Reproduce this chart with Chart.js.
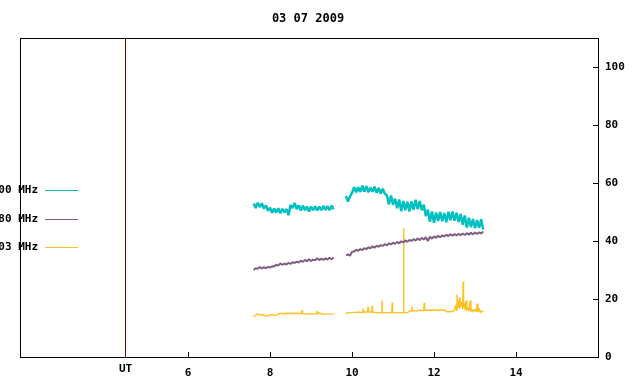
<!DOCTYPE html>
<html><head><meta charset="utf-8">
<script src="https://cdn.jsdelivr.net/npm/chart.js@4/dist/chart.umd.min.js"></script>
<style>html,body{margin:0;padding:0;background:#fff}</style>
</head><body>
<canvas id="c" width="640" height="384"></canvas>
<script>
const titleText = '03 07 2009';
const seriesNames = ['2800 MHz', '1980 MHz', '1403 MHz'];
const seriesColors = ['#00c0c0', '#7f5f7f', '#ffc020'];
const seriesWidths = [2.5, 2, 1.4];
const xTickValues = [6, 8, 10, 12, 14];
const yTickValues = [0, 20, 40, 60, 80, 100];
const utHour = 4.45;
const utLabel = 'UT';

// [hour UT, value] pairs
const tealPart1 = [[7.60,52.9],[7.65,51.4],[7.70,53.2],[7.75,51.7],[7.80,53.0],[7.85,51.2],[7.90,52.3],[7.95,50.4],[8.00,51.5],[8.05,49.7],[8.10,51.2],[8.15,49.8],[8.20,51.3],[8.25,49.6],[8.30,51.1],[8.35,49.9],[8.40,51.0],[8.45,48.9],[8.50,52.4],[8.55,51.4],[8.60,53.1],[8.65,51.0],[8.70,52.3],[8.75,50.5],[8.80,52.2],[8.85,50.6],[8.90,51.9],[8.95,50.2],[9.00,51.9],[9.05,50.6],[9.10,52.0],[9.15,50.5],[9.20,51.9],[9.25,50.6],[9.30,52.1],[9.35,50.7],[9.40,52.0],[9.45,50.6],[9.50,52.2],[9.55,50.9]];
const tealPart2 = [[9.85,55.5],[9.90,53.6],[9.95,55.4],[10.00,56.6],[10.05,58.6],[10.10,56.8],[10.15,58.5],[10.20,56.9],[10.25,59.1],[10.30,57.0],[10.35,58.9],[10.40,56.8],[10.45,58.4],[10.50,57.0],[10.55,58.7],[10.60,56.6],[10.65,58.3],[10.70,56.4],[10.75,58.0],[10.80,56.3],[10.85,55.8],[10.90,52.6],[10.95,55.7],[11.00,52.5],[11.05,54.6],[11.10,51.3],[11.15,54.3],[11.20,50.3],[11.25,53.8],[11.30,50.6],[11.35,53.5],[11.40,50.2],[11.45,53.6],[11.50,50.8],[11.55,54.2],[11.60,51.0],[11.65,53.8],[11.70,50.6],[11.75,52.5],[11.80,48.6],[11.85,50.8],[11.90,46.6],[11.95,50.2],[12.00,46.3],[12.05,49.8],[12.10,46.9],[12.15,50.0],[12.20,46.8],[12.25,49.6],[12.30,46.5],[12.35,50.1],[12.40,47.2],[12.45,50.2],[12.50,47.0],[12.55,49.7],[12.60,46.6],[12.65,49.3],[12.70,45.6],[12.75,48.8],[12.80,44.6],[12.85,48.0],[12.90,44.8],[12.95,47.6],[13.00,44.4],[13.05,47.2],[13.10,44.6],[13.15,47.5],[13.20,44.0]];

const purplePart1 = [[7.60,30.0],[7.65,30.6],[7.70,30.4],[7.75,31.0],[7.80,30.5],[7.85,31.0],[7.90,30.6],[7.95,31.1],[8.00,30.8],[8.05,31.3],[8.10,31.2],[8.15,31.8],[8.20,31.5],[8.25,32.3],[8.30,31.8],[8.35,32.2],[8.40,31.9],[8.45,32.5],[8.50,32.1],[8.55,32.7],[8.60,32.4],[8.65,32.9],[8.70,32.6],[8.75,33.2],[8.80,32.8],[8.85,33.5],[8.90,33.0],[8.95,33.7],[9.00,33.1],[9.05,33.6],[9.10,33.3],[9.15,34.1],[9.20,33.4],[9.25,33.9],[9.30,33.5],[9.35,34.0],[9.40,33.6],[9.45,34.2],[9.50,33.7],[9.55,34.3]];
const purplePart2 = [[9.85,35.0],[9.90,35.4],[9.95,34.9],[10.00,36.3],[10.05,36.4],[10.10,37.0],[10.15,36.6],[10.20,37.2],[10.25,36.9],[10.30,37.5],[10.35,37.2],[10.40,37.8],[10.45,37.5],[10.50,38.2],[10.55,37.7],[10.60,38.4],[10.65,38.0],[10.70,38.6],[10.75,38.3],[10.80,38.9],[10.85,38.5],[10.90,39.2],[10.95,38.8],[11.00,39.4],[11.05,39.0],[11.10,39.7],[11.15,39.2],[11.20,39.9],[11.25,39.5],[11.30,40.2],[11.35,39.7],[11.40,40.4],[11.45,40.0],[11.50,40.7],[11.55,40.1],[11.60,40.9],[11.65,40.3],[11.70,41.1],[11.75,40.5],[11.80,41.3],[11.85,40.0],[11.90,41.5],[11.95,40.8],[12.00,41.6],[12.05,41.1],[12.10,41.8],[12.15,41.3],[12.20,42.0],[12.25,41.5],[12.30,42.2],[12.35,41.7],[12.40,42.3],[12.45,41.8],[12.50,42.4],[12.55,41.9],[12.60,42.5],[12.65,42.0],[12.70,42.6],[12.75,42.1],[12.80,42.7],[12.85,42.2],[12.90,42.8],[12.95,42.3],[13.00,42.9],[13.05,42.4],[13.10,43.0],[13.15,42.6],[13.20,43.3]];

const yellowPart1 = [[7.60,13.9],[7.65,14.4],[7.70,14.9],[7.75,14.5],[7.80,14.6],[7.85,14.3],[7.90,14.2],[7.95,14.2],[8.00,14.5],[8.05,14.6],[8.10,14.3],[8.15,14.4],[8.20,14.9],[8.25,15.0],[8.30,15.0],[8.35,14.9],[8.40,15.1],[8.45,15.0],[8.50,15.0],[8.55,15.1],[8.60,15.0],[8.65,15.1],[8.70,15.0],[8.77,15.0],[8.78,16.2],[8.79,15.0],[8.85,14.9],[8.90,14.8],[8.95,14.9],[9.00,14.8],[9.05,14.8],[9.10,14.9],[9.14,14.9],[9.15,15.8],[9.16,14.9],[9.20,15.2],[9.25,14.9],[9.30,14.8],[9.35,14.8],[9.40,14.8],[9.45,14.8],[9.50,14.8],[9.55,14.8]];
const yellowPart2 = [[9.85,15.0],[9.90,15.3],[9.95,15.3],[10.00,15.4],[10.05,15.4],[10.10,15.4],[10.15,15.5],[10.20,15.4],[10.26,15.4],[10.27,16.6],[10.28,15.4],[10.33,15.5],[10.38,15.5],[10.39,17.4],[10.40,15.5],[10.48,15.5],[10.49,17.7],[10.50,15.5],[10.55,15.4],[10.60,15.3],[10.65,15.3],[10.72,15.3],[10.73,19.4],[10.74,15.3],[10.80,15.3],[10.85,15.3],[10.90,15.3],[10.97,15.3],[10.98,18.8],[10.99,15.3],[11.05,15.3],[11.10,15.3],[11.15,15.3],[11.20,15.3],[11.255,15.3],[11.26,44.4],[11.265,15.3],[11.30,15.3],[11.35,15.3],[11.40,15.8],[11.45,15.9],[11.46,17.4],[11.47,15.9],[11.52,16.0],[11.58,15.8],[11.64,16.1],[11.70,16.0],[11.75,16.0],[11.76,18.7],[11.77,16.0],[11.82,16.1],[11.88,16.2],[11.95,16.1],[12.00,16.2],[12.05,16.1],[12.10,16.2],[12.15,16.3],[12.20,16.1],[12.25,16.2],[12.30,15.6],[12.35,15.6],[12.40,15.6],[12.45,15.8],[12.50,16.2],[12.53,18.0],[12.55,16.0],[12.56,21.5],[12.58,17.0],[12.60,19.5],[12.62,16.8],[12.63,20.7],[12.65,17.5],[12.68,19.0],[12.70,16.5],[12.71,26.0],[12.72,17.0],[12.74,18.5],[12.76,16.2],[12.78,19.5],[12.80,16.0],[12.83,17.0],[12.85,15.8],[12.88,19.5],[12.90,15.6],[12.93,16.5],[12.96,15.5],[13.00,16.4],[13.03,15.6],[13.05,18.4],[13.07,15.5],[13.10,16.8],[13.13,15.2],[13.16,15.9],[13.20,15.6]];

const xMin = 1.9, xMax = 16, yMin = 0, yMax = 110;
const FONT = '"DejaVu Sans Mono", "Liberation Mono", monospace';

function toPoints(a, b) {
  const pts = a.map(p => ({x: p[0], y: p[1]}));
  pts.push({x: (a[a.length-1][0] + b[0][0]) / 2, y: null});
  return pts.concat(b.map(p => ({x: p[0], y: p[1]})));
}

const lineDs = (label, data, color, width) => ({
  label, data, borderColor: color, backgroundColor: color,
  borderWidth: width, borderJoinStyle: 'bevel', pointRadius: 0, tension: 0, spanGaps: false, fill: false
});

const decor = {
  id: 'decor',
  beforeDatasetsDraw(chart) {
    const ctx = chart.ctx, a = chart.chartArea, xs = chart.scales.x;
    ctx.save();
    ctx.strokeStyle = '#800000'; ctx.lineWidth = 1;
    const ux = Math.round(xs.getPixelForValue(utHour)) + 0.5;
    ctx.beginPath(); ctx.moveTo(ux, a.top); ctx.lineTo(ux, a.bottom); ctx.stroke();
    ctx.restore();
  },
  afterDraw(chart) {
    const ctx = chart.ctx, a = chart.chartArea;
    const xs = chart.scales.x, ys = chart.scales.y;
    ctx.save();
    ctx.strokeStyle = '#000'; ctx.lineWidth = 1;
    ctx.strokeRect(a.left + 0.5, a.top + 0.5, a.right - a.left, a.bottom - a.top);
    ctx.beginPath();
    xTickValues.forEach(v => {
      const px = Math.round(xs.getPixelForValue(v)) + 0.5;
      ctx.moveTo(px, a.bottom); ctx.lineTo(px, a.bottom - 5);
    });
    yTickValues.forEach(v => {
      const py = Math.round(ys.getPixelForValue(v)) + 0.5;
      ctx.moveTo(a.right, py); ctx.lineTo(a.right - 5, py);
    });
    ctx.stroke();
    ctx.fillStyle = '#000';
    ctx.font = 'bold 12px ' + FONT;
    ctx.textAlign = 'center'; ctx.textBaseline = 'middle';
    ctx.fillText(titleText, 308, 19);
    ctx.font = 'bold 11px ' + FONT;
    ctx.fillText(utLabel, Math.round(xs.getPixelForValue(utHour)) + 0.5, 369);
    ctx.textAlign = 'right';
    const legY = [190, 218.5, 247];
    seriesNames.forEach((n, i) => {
      ctx.fillStyle = '#000';
      ctx.fillText(n, 38, legY[i] + 0.5);
      ctx.strokeStyle = seriesColors[i];
      ctx.beginPath();
      ctx.moveTo(45, Math.round(legY[i]) + 0.5); ctx.lineTo(78, Math.round(legY[i]) + 0.5);
      ctx.stroke();
    });
    ctx.restore();
  }
};

new Chart(document.getElementById('c'), {
  type: 'line',
  data: {
    datasets: [
      lineDs(seriesNames[0], toPoints(tealPart1, tealPart2), seriesColors[0], seriesWidths[0]),
      lineDs(seriesNames[1], toPoints(purplePart1, purplePart2), seriesColors[1], seriesWidths[1]),
      lineDs(seriesNames[2], toPoints(yellowPart1, yellowPart2), seriesColors[2], seriesWidths[2])
    ]
  },
  options: {
    responsive: false, animation: false, devicePixelRatio: 1,
    layout: {padding: {left: 20, top: 38, right: 0, bottom: 0}},
    plugins: {legend: {display: false}, title: {display: false}, tooltip: {enabled: false}},
    scales: {
      x: {
        type: 'linear', position: 'bottom', min: xMin, max: xMax,
        grid: {display: false, drawTicks: false}, border: {display: false},
        afterBuildTicks: s => { s.ticks = xTickValues.map(v => ({value: v})); },
        afterFit: s => { s.height = 27; },
        ticks: {color: '#000', padding: 10, maxRotation: 0, autoSkip: false,
                font: {family: FONT, size: 11, weight: 'bold'}}
      },
      y: {
        type: 'linear', position: 'right', min: yMin, max: yMax,
        grid: {display: false, drawTicks: false}, border: {display: false},
        afterBuildTicks: s => { s.ticks = yTickValues.map(v => ({value: v})); },
        afterFit: s => { s.width = 42; },
        ticks: {color: '#000', padding: 7, font: {family: FONT, size: 11, weight: 'bold'}}
      }
    }
  },
  plugins: [decor]
});
</script>
</body></html>
